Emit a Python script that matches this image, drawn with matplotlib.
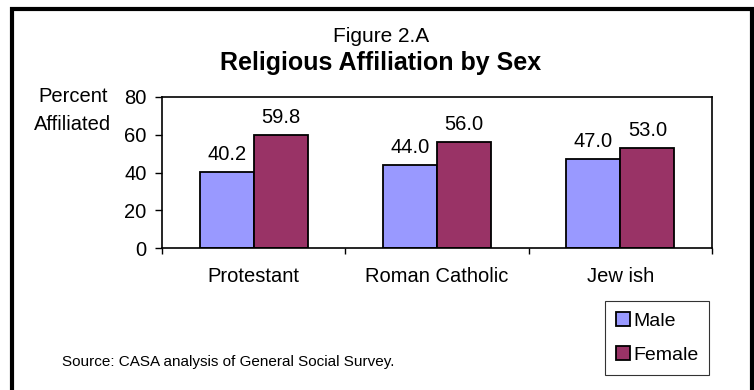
import matplotlib
matplotlib.use("Agg")
import matplotlib.pyplot as plt
from matplotlib.patches import Rectangle
import numpy as np

plt.rcParams['font.family'] = ['Liberation Sans', 'DejaVu Sans']

categories = ["Protestant", "Roman Catholic", "Jew ish"]
male = [40.2, 44.0, 47.0]
female = [59.8, 56.0, 53.0]
yticks = [0, 20, 40, 60, 80]

male_color = "#9999FF"
female_color = "#993366"

fig = plt.figure(figsize=(7.54, 3.90), dpi=100)
fig.patch.set_facecolor("white")

# outer frame (bottom edge runs off the image)
fig.patches.append(Rectangle((12 / 754, -0.1), 740 / 754, (390 - 9) / 390 + 0.1,
                             transform=fig.transFigure, fill=False,
                             edgecolor="black", linewidth=3.0))

ax = fig.add_axes([162 / 754, 142 / 390, 550 / 754, 151 / 390])

x = np.arange(len(categories))
w = 0.295
b1 = ax.bar(x - w / 2, male, w, color=male_color, edgecolor="black", linewidth=1.3, label="Male")
b2 = ax.bar(x + w / 2, female, w, color=female_color, edgecolor="black", linewidth=1.3, label="Female")

for bars, vals in ((b1, male), (b2, female)):
    for rect, v in zip(bars, vals):
        ax.annotate(f"{v:.1f}", (rect.get_x() + rect.get_width() / 2, v),
                    xytext=(0, 6), textcoords="offset points",
                    ha="center", va="bottom", fontsize=14.5)

ax.set_xlim(-0.5, 2.5)
ax.set_ylim(0, 80)
ax.set_yticks(yticks)
ax.tick_params(axis="y", direction="out", length=5, width=1, labelsize=14.5, pad=6)

ax.set_xticks([-0.5, 0.5, 1.5, 2.5])
ax.set_xticklabels([])
ax.tick_params(axis="x", which="major", direction="out", length=4, width=1)
ax.set_xticks(x, minor=True)
ax.set_xticklabels(categories, minor=True, fontsize=14.5)
ax.tick_params(axis="x", which="minor", length=0, pad=14)

for s in ax.spines.values():
    s.set_linewidth(1.2)

fig.text(381 / 754, 1 - 36 / 390, "Figure 2.A", ha="center", va="center", fontsize=15)
fig.text(381 / 754, 1 - 63 / 390, "Religious Affiliation by Sex", ha="center", va="center",
         fontsize=18, fontweight="bold")
fig.text(73 / 754, 1 - 96 / 390, "Percent", ha="center", va="center", fontsize=14.5)
fig.text(73 / 754, 1 - 125 / 390, "Affiliated", ha="center", va="center", fontsize=14.5)

fig.text(62 / 754, 1 - 362 / 390, "Source: CASA analysis of General Social Survey.",
         ha="left", va="center", fontsize=11)

leg = fig.legend(handles=[b1, b2], loc="upper left", bbox_to_anchor=(605 / 754, 1 - 301 / 390),
                 fontsize=14, frameon=True, fancybox=False, handlelength=0.75, handleheight=0.75,
                 handletextpad=0.15, labelspacing=0.85, borderpad=0.55, borderaxespad=0)
leg.get_frame().set_edgecolor("black")
leg.get_frame().set_linewidth(0.8)

fig.savefig("out.png", dpi=100)
